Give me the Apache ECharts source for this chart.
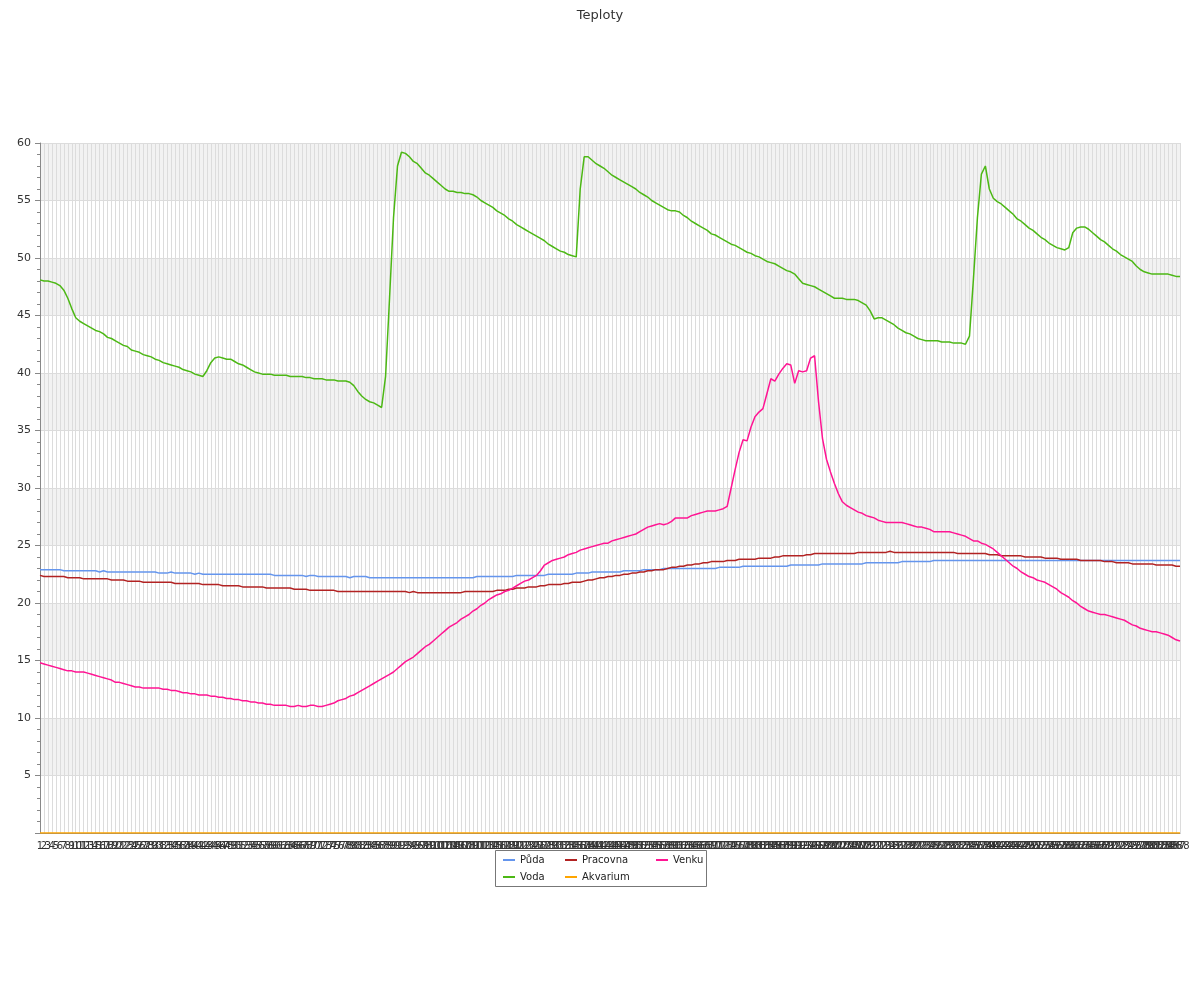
<!DOCTYPE html>
<html>
<head>
<meta charset="utf-8">
<script src="https://cdn.jsdelivr.net/npm/echarts@6/dist/echarts.min.js"></script>
<style>html,body{margin:0;padding:0;background:#fff}#c{width:1200px;height:1000px}</style>
</head>
<body>
<div id="c"></div>
<script>
var categories = [];
for (var k = 1; k <= 288; k++) categories.push(String(k));

var puda = [
22.9,22.9,22.9,22.9,22.9,22.9,22.8,22.8,22.8,22.8,
22.8,22.8,22.8,22.8,22.8,22.7,22.8,22.7,22.7,22.7,
22.7,22.7,22.7,22.7,22.7,22.7,22.7,22.7,22.7,22.7,
22.6,22.6,22.6,22.7,22.6,22.6,22.6,22.6,22.6,22.5,
22.6,22.5,22.5,22.5,22.5,22.5,22.5,22.5,22.5,22.5,
22.5,22.5,22.5,22.5,22.5,22.5,22.5,22.5,22.5,22.4,
22.4,22.4,22.4,22.4,22.4,22.4,22.4,22.3,22.4,22.4,
22.3,22.3,22.3,22.3,22.3,22.3,22.3,22.3,22.2,22.3,
22.3,22.3,22.3,22.2,22.2,22.2,22.2,22.2,22.2,22.2,
22.2,22.2,22.2,22.2,22.2,22.2,22.2,22.2,22.2,22.2,
22.2,22.2,22.2,22.2,22.2,22.2,22.2,22.2,22.2,22.2,
22.3,22.3,22.3,22.3,22.3,22.3,22.3,22.3,22.3,22.3,
22.4,22.4,22.4,22.4,22.4,22.4,22.4,22.4,22.5,22.5,
22.5,22.5,22.5,22.5,22.5,22.6,22.6,22.6,22.6,22.7,
22.7,22.7,22.7,22.7,22.7,22.7,22.7,22.8,22.8,22.8,
22.8,22.8,22.9,22.9,22.9,22.9,22.9,23.0,23.0,23.0,
23.0,23.0,23.0,23.0,23.0,23.0,23.0,23.0,23.0,23.0,
23.0,23.1,23.1,23.1,23.1,23.1,23.1,23.2,23.2,23.2,
23.2,23.2,23.2,23.2,23.2,23.2,23.2,23.2,23.2,23.3,
23.3,23.3,23.3,23.3,23.3,23.3,23.3,23.4,23.4,23.4,
23.4,23.4,23.4,23.4,23.4,23.4,23.4,23.4,23.5,23.5,
23.5,23.5,23.5,23.5,23.5,23.5,23.5,23.6,23.6,23.6,
23.6,23.6,23.6,23.6,23.6,23.7,23.7,23.7,23.7,23.7,
23.7,23.7,23.7,23.7,23.7,23.7,23.7,23.7,23.7,23.7,
23.7,23.7,23.7,23.7,23.7,23.7,23.7,23.7,23.7,23.7,
23.7,23.7,23.7,23.7,23.7,23.7,23.7,23.7,23.7,23.7,
23.7,23.7,23.7,23.7,23.7,23.7,23.7,23.7,23.7,23.7,
23.7,23.7,23.7,23.7,23.7,23.7,23.7,23.7,23.7,23.7,
23.7,23.7,23.7,23.7,23.7,23.7,23.7,23.7
];

var voda = [
48.1,48.0,48.0,47.9,47.8,47.6,47.2,46.5,45.6,44.8,
44.5,44.3,44.1,43.9,43.7,43.6,43.4,43.1,43.0,42.8,
42.6,42.4,42.3,42.0,41.9,41.8,41.6,41.5,41.4,41.2,
41.1,40.9,40.8,40.7,40.6,40.5,40.3,40.2,40.1,39.9,
39.8,39.7,40.2,40.9,41.3,41.4,41.3,41.2,41.2,41.0,
40.8,40.7,40.5,40.3,40.1,40.0,39.9,39.9,39.9,39.8,
39.8,39.8,39.8,39.7,39.7,39.7,39.7,39.6,39.6,39.5,
39.5,39.5,39.4,39.4,39.4,39.3,39.3,39.3,39.2,38.9,
38.4,38.0,37.7,37.5,37.4,37.2,37.0,39.7,46.5,53.5,
58.0,59.2,59.1,58.8,58.4,58.2,57.8,57.4,57.2,56.9,
56.6,56.3,56.0,55.8,55.8,55.7,55.7,55.6,55.6,55.5,
55.3,55.0,54.8,54.6,54.4,54.1,53.9,53.7,53.4,53.2,
52.9,52.7,52.5,52.3,52.1,51.9,51.7,51.5,51.2,51.0,
50.8,50.6,50.5,50.3,50.2,50.1,56.0,58.8,58.8,58.5,
58.2,58.0,57.8,57.5,57.2,57.0,56.8,56.6,56.4,56.2,
56.0,55.7,55.5,55.3,55.0,54.8,54.6,54.4,54.2,54.1,
54.1,54.0,53.7,53.5,53.2,53.0,52.8,52.6,52.4,52.1,
52.0,51.8,51.6,51.4,51.2,51.1,50.9,50.7,50.5,50.4,
50.2,50.1,49.9,49.7,49.6,49.5,49.3,49.1,48.9,48.8,
48.6,48.2,47.8,47.7,47.6,47.5,47.3,47.1,46.9,46.7,
46.5,46.5,46.5,46.4,46.4,46.4,46.3,46.1,45.9,45.4,
44.7,44.8,44.8,44.6,44.4,44.2,43.9,43.7,43.5,43.4,
43.2,43.0,42.9,42.8,42.8,42.8,42.8,42.7,42.7,42.7,
42.6,42.6,42.6,42.5,43.2,48.2,53.5,57.3,58.0,56.0,
55.2,54.9,54.7,54.4,54.1,53.8,53.4,53.2,52.9,52.6,
52.4,52.1,51.8,51.6,51.3,51.1,50.9,50.8,50.7,50.9,
52.2,52.6,52.7,52.7,52.5,52.2,51.9,51.6,51.4,51.1,
50.8,50.6,50.3,50.1,49.9,49.7,49.3,49.0,48.8,48.7,
48.6,48.6,48.6,48.6,48.6,48.5,48.4,48.4
];

var pracovna = [
22.4,22.3,22.3,22.3,22.3,22.3,22.3,22.2,22.2,22.2,
22.2,22.1,22.1,22.1,22.1,22.1,22.1,22.1,22.0,22.0,
22.0,22.0,21.9,21.9,21.9,21.9,21.8,21.8,21.8,21.8,
21.8,21.8,21.8,21.8,21.7,21.7,21.7,21.7,21.7,21.7,
21.7,21.6,21.6,21.6,21.6,21.6,21.5,21.5,21.5,21.5,
21.5,21.4,21.4,21.4,21.4,21.4,21.4,21.3,21.3,21.3,
21.3,21.3,21.3,21.3,21.2,21.2,21.2,21.2,21.1,21.1,
21.1,21.1,21.1,21.1,21.1,21.0,21.0,21.0,21.0,21.0,
21.0,21.0,21.0,21.0,21.0,21.0,21.0,21.0,21.0,21.0,
21.0,21.0,21.0,20.9,21.0,20.9,20.9,20.9,20.9,20.9,
20.9,20.9,20.9,20.9,20.9,20.9,20.9,21.0,21.0,21.0,
21.0,21.0,21.0,21.0,21.0,21.1,21.1,21.1,21.2,21.2,
21.3,21.3,21.3,21.4,21.4,21.4,21.5,21.5,21.6,21.6,
21.6,21.6,21.7,21.7,21.8,21.8,21.8,21.9,22.0,22.0,
22.1,22.2,22.2,22.3,22.3,22.4,22.4,22.5,22.5,22.6,
22.6,22.7,22.7,22.8,22.8,22.9,22.9,22.9,23.0,23.1,
23.1,23.2,23.2,23.3,23.3,23.4,23.4,23.5,23.5,23.6,
23.6,23.6,23.6,23.7,23.7,23.7,23.8,23.8,23.8,23.8,
23.8,23.9,23.9,23.9,23.9,24.0,24.0,24.1,24.1,24.1,
24.1,24.1,24.1,24.2,24.2,24.3,24.3,24.3,24.3,24.3,
24.3,24.3,24.3,24.3,24.3,24.3,24.4,24.4,24.4,24.4,
24.4,24.4,24.4,24.4,24.5,24.4,24.4,24.4,24.4,24.4,
24.4,24.4,24.4,24.4,24.4,24.4,24.4,24.4,24.4,24.4,
24.4,24.3,24.3,24.3,24.3,24.3,24.3,24.3,24.3,24.2,
24.2,24.2,24.1,24.1,24.1,24.1,24.1,24.1,24.0,24.0,
24.0,24.0,24.0,23.9,23.9,23.9,23.9,23.8,23.8,23.8,
23.8,23.8,23.7,23.7,23.7,23.7,23.7,23.7,23.6,23.6,
23.6,23.5,23.5,23.5,23.5,23.4,23.4,23.4,23.4,23.4,
23.4,23.3,23.3,23.3,23.3,23.3,23.2,23.2
];

var akvarium = [
0,0,0,0,0,0,0,0,0,0, 0,0,0,0,0,0,0,0,0,0, 0,0,0,0,0,0,0,0,0,0,
0,0,0,0,0,0,0,0,0,0, 0,0,0,0,0,0,0,0,0,0, 0,0,0,0,0,0,0,0,0,0,
0,0,0,0,0,0,0,0,0,0, 0,0,0,0,0,0,0,0,0,0, 0,0,0,0,0,0,0,0,0,0,
0,0,0,0,0,0,0,0,0,0, 0,0,0,0,0,0,0,0,0,0, 0,0,0,0,0,0,0,0,0,0,
0,0,0,0,0,0,0,0,0,0, 0,0,0,0,0,0,0,0,0,0, 0,0,0,0,0,0,0,0,0,0,
0,0,0,0,0,0,0,0,0,0, 0,0,0,0,0,0,0,0,0,0, 0,0,0,0,0,0,0,0,0,0,
0,0,0,0,0,0,0,0,0,0, 0,0,0,0,0,0,0,0,0,0, 0,0,0,0,0,0,0,0,0,0,
0,0,0,0,0,0,0,0,0,0, 0,0,0,0,0,0,0,0,0,0, 0,0,0,0,0,0,0,0,0,0,
0,0,0,0,0,0,0,0,0,0, 0,0,0,0,0,0,0,0,0,0, 0,0,0,0,0,0,0,0,0,0,
0,0,0,0,0,0,0,0,0,0,
0,0,0,0,0,0,0,0
];

var venku = [
14.8,14.7,14.6,14.5,14.4,14.3,14.2,14.1,14.1,14.0,
14.0,14.0,13.9,13.8,13.7,13.6,13.5,13.4,13.3,13.1,
13.1,13.0,12.9,12.8,12.7,12.7,12.6,12.6,12.6,12.6,
12.6,12.5,12.5,12.4,12.4,12.3,12.2,12.2,12.1,12.1,
12.0,12.0,12.0,11.9,11.9,11.8,11.8,11.7,11.7,11.6,
11.6,11.5,11.5,11.4,11.4,11.3,11.3,11.2,11.2,11.1,
11.1,11.1,11.1,11.0,11.0,11.1,11.0,11.0,11.1,11.1,
11.0,11.0,11.1,11.2,11.3,11.5,11.6,11.7,11.9,12.0,
12.2,12.4,12.6,12.8,13.0,13.2,13.4,13.6,13.8,14.0,
14.3,14.6,14.9,15.1,15.3,15.6,15.9,16.2,16.4,16.7,
17.0,17.3,17.6,17.9,18.1,18.3,18.6,18.8,19.0,19.3,
19.5,19.8,20.0,20.3,20.5,20.7,20.8,21.0,21.1,21.3,
21.5,21.7,21.9,22.0,22.2,22.4,22.8,23.3,23.5,23.7,
23.8,23.9,24.0,24.2,24.3,24.4,24.6,24.7,24.8,24.9,
25.0,25.1,25.2,25.2,25.4,25.5,25.6,25.7,25.8,25.9,
26.0,26.2,26.4,26.6,26.7,26.8,26.9,26.8,26.9,27.1,
27.4,27.4,27.4,27.4,27.6,27.7,27.8,27.9,28.0,28.0,
28.0,28.1,28.2,28.4,30.0,31.6,33.1,34.2,34.1,35.3,
36.2,36.6,36.9,38.2,39.5,39.3,39.9,40.4,40.8,40.7,
39.1,40.2,40.1,40.2,41.3,41.5,37.5,34.3,32.5,31.4,
30.4,29.5,28.8,28.5,28.3,28.1,27.9,27.8,27.6,27.5,
27.4,27.2,27.1,27.0,27.0,27.0,27.0,27.0,26.9,26.8,
26.7,26.6,26.6,26.5,26.4,26.2,26.2,26.2,26.2,26.2,
26.1,26.0,25.9,25.8,25.6,25.4,25.4,25.2,25.1,24.9,
24.7,24.4,24.1,23.8,23.5,23.2,23.0,22.7,22.5,22.3,
22.2,22.0,21.9,21.8,21.6,21.4,21.2,20.9,20.7,20.5,
20.2,20.0,19.7,19.5,19.3,19.2,19.1,19.0,19.0,18.9,
18.8,18.7,18.6,18.5,18.3,18.1,18.0,17.8,17.7,17.6,
17.5,17.5,17.4,17.3,17.2,17.0,16.8,16.7
];

var legendCol1 = ['Půda', 'Voda'];
var legendCol2 = ['Pracovna', 'Akvarium'];
var legendCol3 = ['Venku'];

var chart = echarts.init(document.getElementById('c'), null, {renderer: 'canvas'});

function mkSeries(name, data, color) {
  return {
    name: name, type: 'line', data: data, showSymbol: false, symbol: 'none',
    lineStyle: {width: 1.5, color: color}, itemStyle: {color: color},
    emphasis: {disabled: true}
  };
}

function mkLegend(names, left) {
  return {
    orient: 'vertical', left: left, top: 855, padding: 0,
    itemWidth: 12, itemHeight: 2, itemGap: 7, icon: 'rect',
    data: names,
    textStyle: {fontSize: 10, color: '#222', fontFamily: 'DejaVu Sans'}
  };
}

chart.setOption({
  animation: false,
  textStyle: {fontFamily: 'DejaVu Sans'},
  title: {
    text: 'Teploty', left: 'center', top: 4,
    textStyle: {fontSize: 13, fontWeight: 'normal', color: '#333', fontFamily: 'DejaVu Sans'}
  },
  graphic: [{
    type: 'rect', silent: true, z: -1,
    shape: {x: 495.5, y: 850.5, width: 211, height: 36},
    style: {fill: '#fff', stroke: '#777', lineWidth: 1}
  }],
  legend: [
    mkLegend(legendCol1, 503),
    mkLegend(legendCol2, 565),
    mkLegend(legendCol3, 656)
  ],
  grid: {left: 40, right: 20, top: 143, bottom: 167, containLabel: false},
  xAxis: {
    type: 'category', boundaryGap: false, data: categories,
    axisLine: {show: true, lineStyle: {color: '#888'}},
    axisTick: {show: false},
    axisLabel: {interval: 0, fontSize: 10, color: '#333', margin: 8},
    splitLine: {show: true, interval: 0, lineStyle: {color: '#dcdcdc', width: 1}}
  },
  yAxis: {
    type: 'value', min: 0, max: 60, interval: 5,
    axisLine: {show: true, lineStyle: {color: '#888'}},
    axisTick: {show: true, length: 5, lineStyle: {color: '#888'}},
    minorTick: {show: true, splitNumber: 5, length: 3, lineStyle: {color: '#888'}},
    axisLabel: {fontSize: 11, color: '#333', margin: 9, showMinLabel: false},
    splitLine: {show: true, lineStyle: {color: '#dcdcdc'}},
    splitArea: {show: true, areaStyle: {color: ['#ffffff', '#f2f2f2']}}
  },
  series: [
    mkSeries('Půda', puda, '#6495ed'),
    mkSeries('Voda', voda, '#4cb814'),
    mkSeries('Pracovna', pracovna, '#b22222'),
    mkSeries('Akvarium', akvarium, '#ffa500'),
    mkSeries('Venku', venku, '#ff1493')
  ]
});
</script>
</body>
</html>
